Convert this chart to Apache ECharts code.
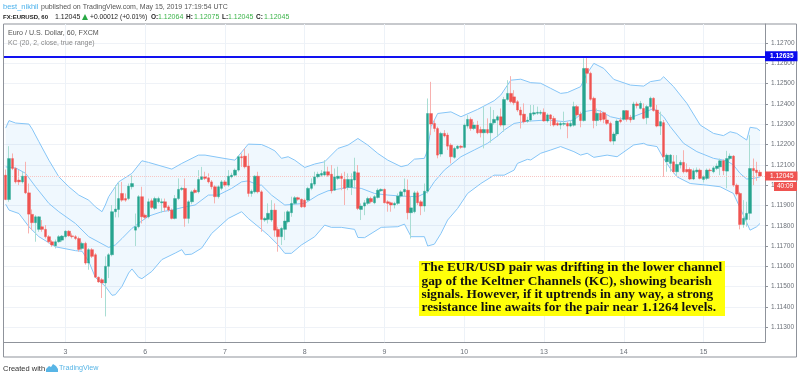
<!DOCTYPE html>
<html><head><meta charset="utf-8">
<style>html,body{margin:0;padding:0;background:#fff}#c{width:800px;height:378px}</style>
<script src="https://cdn.jsdelivr.net/npm/echarts@6/dist/echarts.min.js"></script>
</head><body><div id="c"></div>
<script>
// Prices are listed in 1e-5 units (112045 = 1.12045)
const opens=[112049,111929,112131,112082,112025,112016,112044,111962,111856,111815,111782,111795,111782,111746,111721,111701,111721,111729,111746,111773,111750,111746,111737,111688,111713,111616,111682,111657,111546,111534,111518,111600,111657,111869,111880,111959,111934,111934,111992,111778,111795,111943,111852,111844,111923,111885,111918,111913,111918,111893,111877,111836,111934,111979,111984,111836,111918,111975,111967,112028,112041,112036,112016,111992,111943,111984,112016,112000,112041,112049,112074,112140,112143,112094,111959,111967,112044,111967,111828,111831,111828,111877,111782,111746,111782,111819,111864,111910,111938,111930,111926,111926,111984,112005,112041,112049,112050,112066,112054,111975,112033,112044,112028,111989,111989,112025,112061,111880,111897,111910,111934,111913,111939,111972,111979,111918,111913,111902,111910,111946,111967,111975,111864,111869,111962,111918,111897,111970,112353,112304,112279,112153,112255,112247,112197,112137,112181,112192,112186,112291,112324,112279,112296,112274,112258,112274,112258,112307,112320,112337,112296,112422,112452,112435,112411,112370,112350,112315,112321,112350,112354,112354,112359,112316,112346,112329,112304,112296,112300,112304,112291,112295,112387,112350,112318,112575,112551,112428,112318,112354,112357,112321,112304,112217,112252,112321,112324,112367,112334,112324,112400,112378,112378,112332,112387,112428,112370,112291,112308,112115,112107,112115,112066,112099,112112,112077,112077,112030,112066,112074,112028,112033,112074,112066,112082,112090,112120,112069,112131,112143,112000,111959,111806,111831,111861,112082,112074,112064];
const closes=[111929,112131,112082,112016,112016,112044,111962,111857,111815,111844,111844,111782,111746,111721,111705,111721,111746,111749,111773,111750,111746,111737,111683,111713,111616,111682,111649,111546,111523,111518,111600,111657,111869,111882,111934,111926,111926,111995,112008,111795,111943,111844,111841,111918,111890,111934,111934,111918,111890,111877,111836,111934,111979,111984,111836,111918,111967,111964,112028,112041,112033,112016,111992,111943,111992,112016,112000,112044,112049,112074,112140,112135,112090,111959,111970,112044,111967,111831,111836,111861,111877,111778,111746,111787,111823,111869,111910,111938,111930,111893,111893,111984,112008,112041,112054,112058,112066,112049,111972,112041,112044,112033,111984,112028,112028,112066,111885,111897,111913,111934,111918,111943,111975,111979,111913,111910,111902,111910,111946,111967,111979,111864,111888,111962,111913,111897,111970,112353,112301,112279,112148,112255,112242,112192,112140,112181,112192,112186,112296,112324,112279,112296,112258,112258,112274,112258,112304,112324,112337,112296,112422,112452,112411,112406,112370,112345,112312,112320,112354,112357,112359,112359,112316,112346,112326,112296,112296,112304,112304,112291,112304,112387,112346,112318,112575,112551,112423,112318,112354,112321,112324,112304,112217,112252,112316,112313,112367,112324,112321,112400,112392,112403,112329,112387,112428,112367,112291,112313,112140,112148,112148,112066,112102,112112,112066,112066,112030,112071,112074,112033,112041,112074,112071,112085,112094,112120,112071,112131,112143,112000,111956,111806,111836,111861,112082,112071,112062,112045];
const lows=[111926,111918,112074,112008,112000,112008,111956,111762,111778,111721,111770,111770,111737,111713,111696,111688,111716,111721,111737,111746,111737,111729,111672,111680,111608,111583,111641,111542,111519,111444,111353,111542,111649,111841,111841,111918,111918,111926,111979,111700,111787,111811,111831,111836,111882,111877,111910,111864,111869,111869,111831,111831,111926,111972,111795,111811,111906,111959,111959,112025,112025,112008,111979,111910,111934,111975,111992,111992,112033,112041,112066,112090,112082,111943,111943,111959,111959,111770,111819,111811,111819,111746,111672,111705,111729,111811,111844,111902,111923,111888,111888,111918,111975,111995,112033,112041,112041,112041,111959,111972,112025,111975,111902,111975,111951,111984,111877,111828,111852,111902,111910,111906,111934,111967,111910,111869,111869,111885,111902,111939,111943,111831,111737,111861,111902,111852,111869,111959,112247,112263,112132,112140,112235,112173,112107,112130,112176,112179,112181,112279,112268,112271,112251,112235,112181,112251,112209,112296,112238,112288,112263,112416,112403,112394,112361,112279,112304,112307,112313,112341,112346,112346,112313,112308,112291,112288,112291,112275,112291,112231,112285,112288,112337,112285,112313,112502,112416,112280,112291,112313,112305,112296,112211,112198,112242,112305,112318,112313,112308,112321,112378,112373,112324,112300,112378,112362,112285,112247,112041,112066,112066,112058,112041,112082,112058,112061,112025,112025,112058,112028,112013,112025,112033,112058,112074,112049,112049,111984,112123,111992,111948,111782,111790,111795,111828,112000,112021,112045];
const highs=[112077,112192,112156,112090,112074,112066,112115,112008,111880,111852,111847,111828,111803,111754,111729,111732,111754,111754,111778,111778,111762,111754,111746,111721,111721,111690,111690,111665,111550,111542,111649,111665,111902,112000,112016,112016,111959,112008,112049,111860,111951,111992,111860,111934,111934,111943,111943,111934,111934,111902,111885,111951,112033,111992,112033,111926,111975,111984,112074,112090,112066,112058,112025,112000,112000,112025,112025,112074,112061,112082,112148,112156,112181,112156,111979,112049,112066,111975,111844,111910,111926,111910,111795,111795,111869,111877,111943,111946,111943,111934,111934,111992,112033,112066,112066,112074,112123,112091,112099,112082,112091,112058,112066,112058,112058,112135,112099,111910,111926,111943,111943,111951,111984,111984,111984,111926,111918,111918,111959,111975,112033,112028,111943,111972,111972,111926,112008,112427,112509,112320,112288,112263,112271,112258,112206,112189,112197,112197,112304,112345,112334,112312,112317,112288,112386,112329,112386,112370,112345,112378,112435,112517,112537,112468,112419,112386,112403,112337,112395,112395,112387,112370,112378,112354,112350,112341,112313,112313,112362,112313,112321,112411,112395,112362,112625,112633,112559,112436,112378,112370,112362,112346,112313,112263,112324,112334,112370,112370,112346,112411,112411,112415,112403,112395,112436,112433,112395,112362,112321,112156,112153,112148,112148,112123,112172,112107,112087,112082,112087,112082,112049,112082,112082,112094,112107,112131,112127,112169,112156,112148,112008,111967,111926,111918,112246,112131,112115,112075];

const upperAt=[0,1,3,7,8,10,13,16,19,22,25,27,29,30,31,33,34,38,41,43,50,53,58,60,66,69,73,77,79,81,83,85,87,90,93,96,100,103,106,109,112,115,119,121,123,126,127,128,130,134,137,142,147,149,152,155,158,161,164,167,169,173,175,177,180,183,188,192,194,197,198,201,205,209,213,216,218,220,223,224,226,227];
const upperBand=[112281,112318,112306,112301,112276,112214,112123,112041,111992,111951,111926,111893,111869,111902,111943,111992,112016,112058,112120,112112,112079,112107,112148,112148,112131,112123,112202,112200,112186,112169,112132,112140,112123,112087,112104,112115,112181,112197,112230,112197,112156,112123,112091,112099,112128,112132,112173,112288,112353,112361,112337,112373,112416,112444,112517,112522,112505,112502,112477,112452,112456,112485,112551,112600,112575,112521,112493,112488,112510,112518,112534,112485,112403,112296,112255,112244,112263,112255,112222,112285,112280,112268];
const middleAt=[0,3,6,9,13,16,21,25,31,33,35,38,41,43,47,50,54,57,61,64,68,71,73,76,77,80,84,90,94,97,103,107,111,115,119,124,127,129,132,137,141,145,148,150,153,157,158,163,168,171,174,177,179,182,185,188,192,195,198,200,204,208,213,217,219,221,223,225,227];
const middleBand=[112090,112085,112058,111992,111910,111869,111811,111746,111693,111705,111737,111787,111824,111847,111869,111877,111893,111902,111951,111951,111984,112016,112021,112000,112000,111951,111902,111910,111951,111972,111989,111984,111959,111951,111946,111943,111967,112017,112074,112140,112173,112206,112242,112271,112304,112315,112316,112321,112313,112321,112362,112370,112365,112337,112326,112332,112357,112378,112337,112288,112206,112165,112132,112120,112099,112058,112030,112033,112041];
const lowerAt=[0,1,4,7,10,15,21,23,25,27,30,32,33,35,37,38,40,41,44,47,51,53,54,56,59,62,67,71,73,77,79,82,84,86,89,93,96,98,101,105,106,108,113,118,120,122,126,127,129,131,133,136,139,143,147,150,153,154,157,158,161,164,167,171,173,175,177,181,184,189,192,193,196,198,200,202,206,211,215,219,222,224,226,227];
const lowerBand=[111906,111877,111860,111795,111746,111696,111677,111674,111624,111545,111501,111457,111460,111501,111567,111587,111546,111539,111575,111633,111665,111682,111657,111660,111690,111762,111836,111869,111836,111782,111754,111705,111664,111664,111705,111746,111803,111792,111792,111782,111742,111741,111792,111795,111808,111746,111746,111700,111709,111762,111828,111885,111959,112008,112049,112049,112074,112107,112127,112124,112157,112173,112190,112165,112148,112157,112137,112148,112140,112198,112206,112198,112190,112131,112082,112041,112008,112000,111992,111959,111852,111778,111795,111811];

const dayLabels=['3','6','7','8','9','10','13','14','15'];
const dayAt=[18,42,66,90,114,138,162,186,210];
const priceTicks=[1.113,1.114,1.115,1.116,1.117,1.118,1.119,1.120,1.121,1.122,1.123,1.124,1.125,1.126,1.127];
const resistance=1.12635, lastPrice=1.12045;

const P=v=>v/100000;
const cats=new Array(229).fill('');
dayAt.forEach((d,k)=>cats[d]=dayLabels[k]);
const wicks=opens.map((o,i)=>[P(o),P(closes[i]),P(lows[i]),P(highs[i])]);
const bodies=opens.map((o,i)=>[P(o),P(closes[i]),P(Math.min(o,closes[i])),P(Math.max(o,closes[i]))]);
const pts=(at,vals)=>at.map((x,i)=>[x,P(vals[i])]);
const upperPts=pts(upperAt,upperBand), middlePts=pts(middleAt,middleBand), lowerPts=pts(lowerAt,lowerBand);
const bandLine=(d,extra)=>Object.assign({type:'line',data:d,symbol:'none',silent:true,z:3,lineStyle:{color:'#85c5f7',width:1}},extra||{});
const isDay=(i)=>dayAt.indexOf(i)>=0;
const F='"Liberation Sans",Arial,sans-serif';
const txt=(x,y,text,fill,font,z)=>({type:'text',z:z||40,x,y,silent:true,style:{text,fill,font:font+' '+F,textVerticalAlign:'middle'}});
const SF='bold 13.3px "Liberation Serif",serif';
const note=(y,text)=>({type:'text',z:61,x:421.5,y,silent:true,style:{text,fill:'#111',font:SF,textVerticalAlign:'middle'}});
const chart=echarts.init(document.getElementById('c'),null,{renderer:'canvas'});
chart.setOption({
 animation:false,
 grid:{left:4,right:35,top:24,bottom:36,containLabel:false},
 xAxis:{type:'category',data:cats,boundaryGap:true,
  axisLine:{lineStyle:{color:'#8f939b',width:1}},
  axisTick:{show:false},
  axisLabel:{interval:(i)=>isDay(i),color:'#6b7078',fontSize:7,fontFamily:F,margin:7},
  splitLine:{show:true,alignWithLabel:true,interval:(i)=>isDay(i),lineStyle:{color:'#edf2f8',width:1}}},
 yAxis:{type:'value',position:'right',min:1.11227,max:1.12794,
  axisLine:{show:true,lineStyle:{color:'#8f939b',width:1}},
  axisTick:{show:true,length:3,customValues:priceTicks,lineStyle:{color:'#8f939b'}},
  axisLabel:{customValues:priceTicks,formatter:v=>v.toFixed(5),color:'#6b7078',fontSize:6.5,fontFamily:F,margin:6},
  splitLine:{show:true,lineStyle:{color:'#eff2f7',width:1}}},
 series:[
  {type:'custom',z:1,silent:true,clip:true,data:[[0,P(upperBand[0])]],
   renderItem:(p,api)=>({type:'polygon',
     shape:{points:upperPts.concat(lowerPts.slice().reverse()).map(q=>api.coord(q))},
     style:{fill:'rgba(33,150,243,0.065)',stroke:null}})},
  bandLine(upperPts,{markLine:{silent:true,symbol:'none',animation:false,precision:5,data:[
    {yAxis:resistance,lineStyle:{color:'#1212f0',width:2,type:'solid'},
     label:{show:true,position:'end',distance:0,formatter:resistance.toFixed(5),backgroundColor:'#0a0aee',color:'#fff',fontSize:6.5,fontFamily:F,fontWeight:'bold',padding:[1.5,4,1.5,5]}},
    {yAxis:lastPrice,lineStyle:{color:'#f7c6c4',width:1,type:'dotted'},
     label:{show:true,position:'end',distance:0,formatter:lastPrice.toFixed(5),backgroundColor:'#ef5350',color:'#fff',fontSize:6.5,fontFamily:F,padding:[1,4,1,5]}}
   ]}}),
  bandLine(middlePts),bandLine(lowerPts),
  {type:'candlestick',name:'wicks',data:wicks,barWidth:1,z:4,silent:true,
   itemStyle:{color:'#a9ddd3',color0:'#f7b1af',borderColor:'#a9ddd3',borderColor0:'#f7b1af',borderWidth:1}},
  {type:'candlestick',name:'bodies',data:bodies,barWidth:3,z:5,silent:true,
   itemStyle:{color:'#26a48f',color0:'#ef5350',borderColor:'#26a48f',borderColor0:'#ef5350',borderWidth:0.4}}
 ],
 graphic:[
  {type:'rect',z:0,silent:true,shape:{x:3.5,y:24,width:793,height:333},style:{fill:null,stroke:'#8f939b',lineWidth:1}},
  {type:'rect',z:50,silent:true,shape:{x:774,y:182,width:23,height:9},style:{fill:'#ef5350'}},
  txt(777,186.5,'40:09','#fff','6.5px',51),
  txt(3,7,'best_nikhil','#4db2ec','7.5px'),
  txt(41,7,'published on TradingView.com, May 15, 2019 17:19:54 UTC','#555','7px'),
  txt(3,17,'FX:EURUSD, 60','#222','bold 6px'),
  txt(55,17,'1.12045','#222','7px'),
  {type:'polygon',silent:true,shape:{points:[[82,20],[88,20],[85,14]]},style:{fill:'#27a844'}},
  txt(90,17,'+0.00012 (+0.01%)','#222','6.7px'),
  txt(151,17,'O:','#222','bold 6.5px'),txt(158,17,'1.12064','#3cb44a','7px'),
  txt(186,17,'H:','#222','bold 6.5px'),txt(194,17,'1.12075','#3cb44a','7px'),
  txt(222,17,'L:','#222','bold 6.5px'),txt(228,17,'1.12045','#3cb44a','7px'),
  txt(256,17,'C:','#222','bold 6.5px'),txt(264,17,'1.12045','#3cb44a','7px'),
  txt(8,33,'Euro / U.S. Dollar, 60, FXCM','#555','7.1px'),
  txt(8,43,'KC (20, 2, close, true range)','#888','6.9px'),
  txt(3,368.5,'Created with','#333','7.5px'),
  {type:'polygon',silent:true,shape:{points:[[46,372],[46,369],[49,366],[51,367],[53,364],[56,366],[58,369],[58,372]]},style:{fill:'#58b5e6'}},
  txt(59,368.5,'TradingView','#58b5e6','7.2px'),
  {type:'rect',z:60,silent:true,shape:{x:419,y:261,width:306,height:55},style:{fill:'#ffff0a'}},
  note(268,'The EUR/USD pair was drifting in the lower channel'),
  note(281.5,'gap of the Keltner Channels (KC), showing bearish'),
  note(295,'signals. However, if it uptrends in any way, a strong'),
  note(308,'resistance line awaits for the pair near 1.1264 levels.')
 ]
});
</script></body></html>
